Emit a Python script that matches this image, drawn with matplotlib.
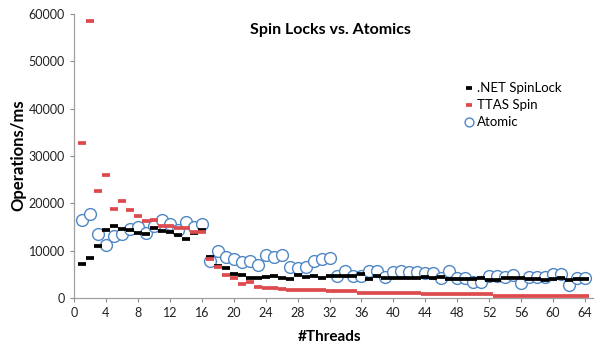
import matplotlib
matplotlib.use("Agg")
import matplotlib.pyplot as plt

plt.rcParams["font.family"] = ["Lato", "DejaVu Sans"]

threads = list(range(1, 65))

# .NET SpinLock (ops/ms)
spinlock = [7200, 8450, 10900, 14300, 15300, 14600, 14300, 13750, 13500, 14800,
            14100, 13950, 13250, 12500, 13800, 14400, 8750, 6700, 6350, 5000,
            4950, 4250, 4250, 4400, 4750, 4200, 4050, 4900, 4400, 4750,
            4200, 4750, 4750, 4750, 4750, 5000, 4050, 4750, 4250, 4250,
            4250, 4250, 4250, 4400, 4250, 4400, 4050, 4050, 4050, 4050,
            4250, 3850, 3850, 4250, 4250, 4250, 4050, 4050, 3850, 4050,
            4250, 3850, 4050, 4050]

# TTAS Spin (ops/ms)
ttas = [32800, 58600, 22700, 25900, 18800, 20400, 18650, 17400, 16200, 16550,
        15300, 15300, 14850, 14850, 13900, 13900, 8300, 6500, 4950, 4200,
        2950, 3450, 2300, 2150, 2150, 1850, 1750, 1600, 1600, 1600,
        1600, 1400, 1400, 1400, 1400, 1050, 1050, 1050, 1050, 1050,
        1050, 1050, 1050, 750, 750, 750, 750, 750, 750, 750,
        750, 750, 420, 420, 420, 420, 420, 420, 420, 420,
        420, 420, 420, 420]

# Atomic (ops/ms)
atomic = [16400, 17800, 13550, 11300, 13050, 13550, 14650, 14950, 13700, 15300,
          16500, 15700, 14400, 16100, 15100, 15700, 7800, 9950, 8700, 8250,
          7550, 7900, 6900, 9000, 8650, 9000, 6500, 6250, 6500, 7900,
          8300, 8500, 4600, 5750, 4700, 4550, 5600, 5700, 4450, 5450,
          5700, 5450, 5450, 5250, 5250, 4150, 5650, 4150, 4150, 3450,
          3300, 4600, 4750, 4450, 4950, 3150, 4450, 4450, 4450, 5100,
          5100, 2650, 4150, 4250]

fig = plt.figure(figsize=(5.99, 3.52), dpi=100)
ax = fig.add_axes([74 / 599, 54 / 352, (593 - 74) / 599, (298 - 14) / 352])

ax.plot(threads, atomic, ls="none", marker="o", ms=8.5, mfc="white",
        mec="#4f87c4", mew=1.0, label="Atomic", zorder=2)
ax.plot(threads, spinlock, ls="none", marker="_", ms=5.2, mew=2.7,
        color="black", label=".NET SpinLock", zorder=3)
ax.plot(threads, ttas, ls="none", marker="_", ms=5.2, mew=2.7,
        color="#dd4b4f", label="TTAS Spin", zorder=3)

ax.set_xlim(0, 65)
ax.set_ylim(0, 60000)
ax.set_xticks(range(0, 65, 4))
ax.set_yticks(range(0, 60001, 10000))
ax.tick_params(colors="#8c8c8c", labelcolor="#222222", labelsize=9,
               length=3, width=0.8, direction="out")
for s in ("top", "right"):
    ax.spines[s].set_visible(False)
for s in ("left", "bottom"):
    ax.spines[s].set_color("#a0a0a0")
    ax.spines[s].set_linewidth(0.9)

h, l = ax.get_legend_handles_labels()
order = [1, 2, 0]
ax.legend([h[i] for i in order], [l[i] for i in order], frameon=False,
          loc="upper left", bbox_to_anchor=(460 / 599, 1 - 77 / 352),
          bbox_transform=fig.transFigure, fontsize=9.5, handlelength=0.6,
          handletextpad=0.3, labelspacing=0.38, borderaxespad=0,
          markerscale=0.75)

fig.text(0.551, 0.915, "Spin Locks vs. Atomics", ha="center", va="center",
         fontsize=11.5, fontweight="bold")
fig.text(0.551, 0.043, "#Threads", ha="center", va="center",
         fontsize=11, fontweight="bold")
fig.text(0.03, 0.56, "Operations/ms", ha="center", va="center",
         rotation=90, fontsize=12, fontweight="bold")

fig.savefig("out.png", dpi=100)
